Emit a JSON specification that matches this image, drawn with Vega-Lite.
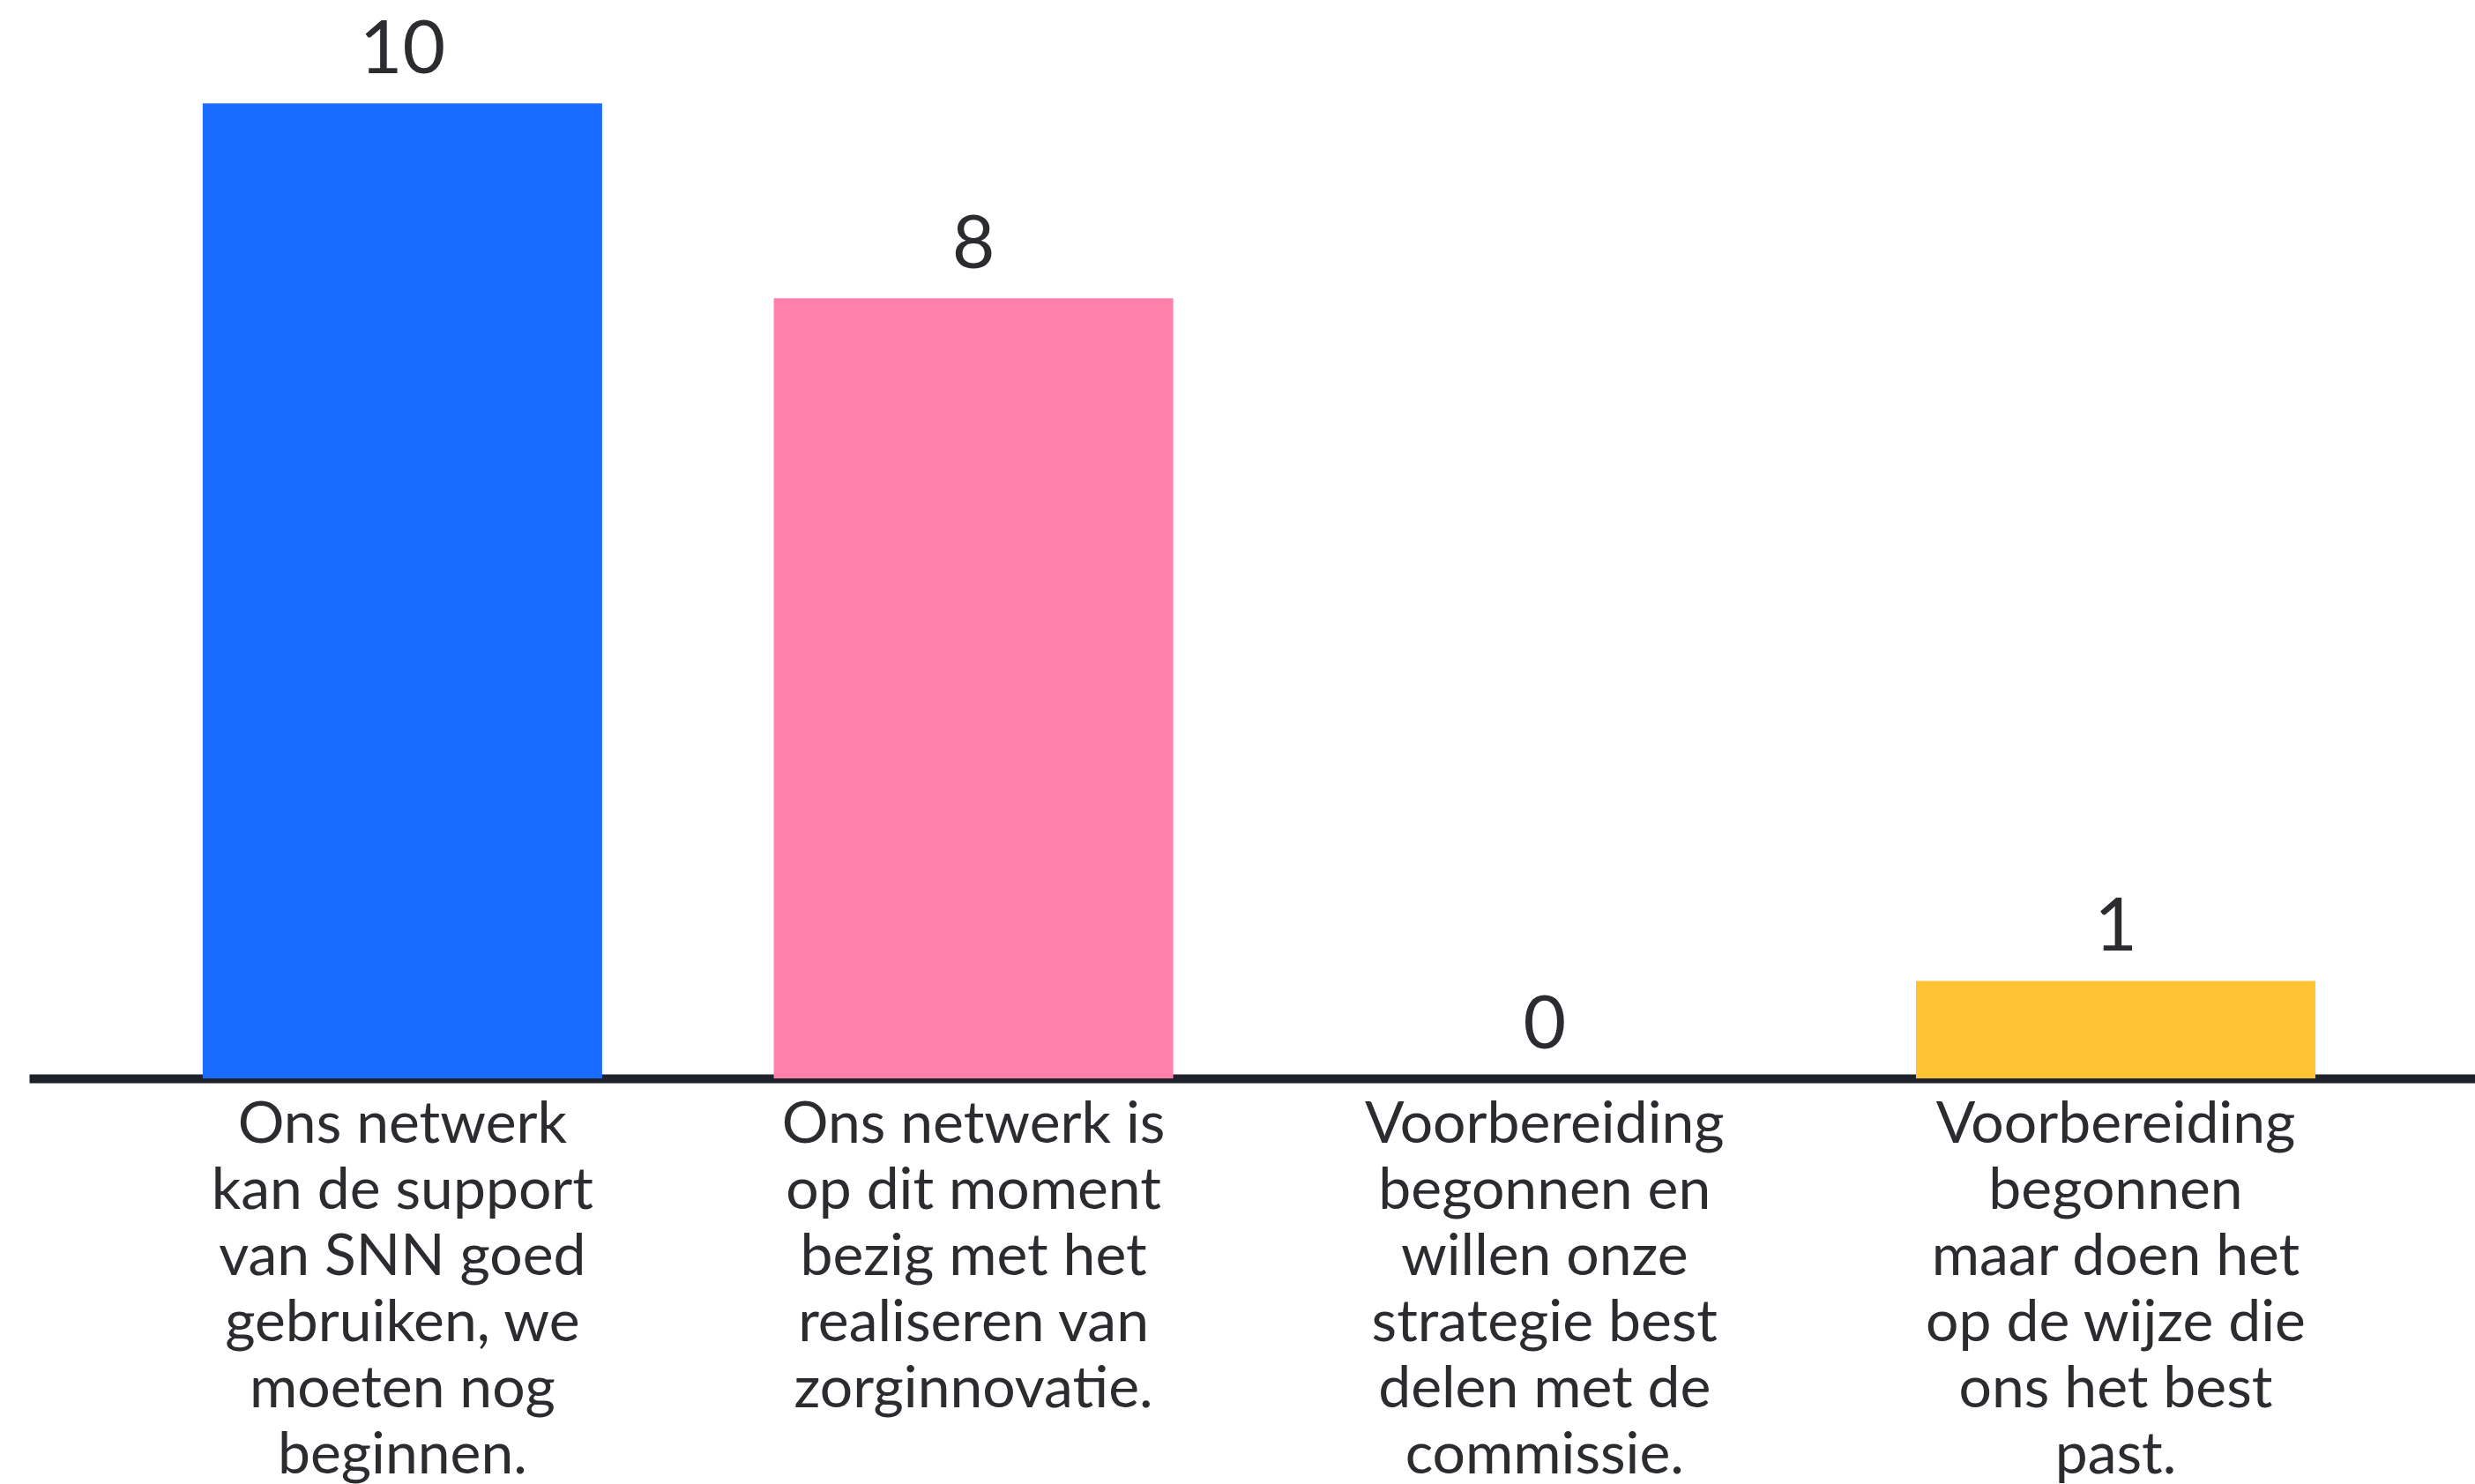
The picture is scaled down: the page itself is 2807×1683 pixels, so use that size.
{
  "$schema": "https://vega.github.io/schema/vega-lite/v6.json",
  "width": 2774,
  "height": 1223,
  "autosize": {"type": "none"},
  "padding": {"left": 33, "top": 0, "right": 0, "bottom": 460},
  "background": "#ffffff",
  "config": {"view": {"stroke": null}},
  "data": {
    "values": [
      {"antwoord": "Ons netwerk\nkan de support\nvan SNN goed\ngebruiken, we\nmoeten nog\nbeginnen.", "aantal": 10, "kleur": "a"},
      {"antwoord": "Ons netwerk is\nop dit moment\nbezig met het\nrealiseren van\nzorginnovatie.", "aantal": 8, "kleur": "b"},
      {"antwoord": "Voorbereiding\nbegonnen en\nwillen onze\nstrategie best\ndelen met de\ncommissie.", "aantal": 0, "kleur": "c"},
      {"antwoord": "Voorbereiding\nbegonnen\nmaar doen het\nop de wijze die\nons het best\npast.", "aantal": 1, "kleur": "d"}
    ]
  },
  "encoding": {
    "x": {
      "field": "antwoord",
      "type": "nominal",
      "sort": null,
      "scale": {"paddingInner": 0.3006, "paddingOuter": 0.2917, "align": 0.521},
      "axis": {
        "title": null,
        "labelAngle": 0,
        "ticks": false,
        "domain": true,
        "domainColor": "#1f222a",
        "domainWidth": 10,
        "labelFont": "Lato",
        "labelFontSize": 66,
        "labelLineHeight": 75,
        "labelColor": "#2b2b30",
        "labelBaseline": "top",
        "labelPadding": 20,
        "labelLimit": 0,
        "labelExpr": "split(datum.label, '\\n')"
      }
    },
    "y": {
      "field": "aantal",
      "type": "quantitative",
      "scale": {"domain": [0, 11.06], "nice": false, "zero": true},
      "axis": null
    }
  },
  "layer": [
    {
      "mark": {"type": "bar"},
      "encoding": {
        "color": {
          "field": "kleur",
          "type": "nominal",
          "scale": {"domain": ["a", "b", "c", "d"], "range": ["#196cff", "#ff80ab", "#5ad5a9", "#ffc334"]},
          "legend": null
        }
      }
    },
    {
      "mark": {"type": "text", "baseline": "alphabetic", "dy": -34, "font": "Lato", "fontSize": 84, "color": "#2b2b30"},
      "encoding": {"text": {"field": "aantal", "type": "quantitative"}}
    }
  ]
}
